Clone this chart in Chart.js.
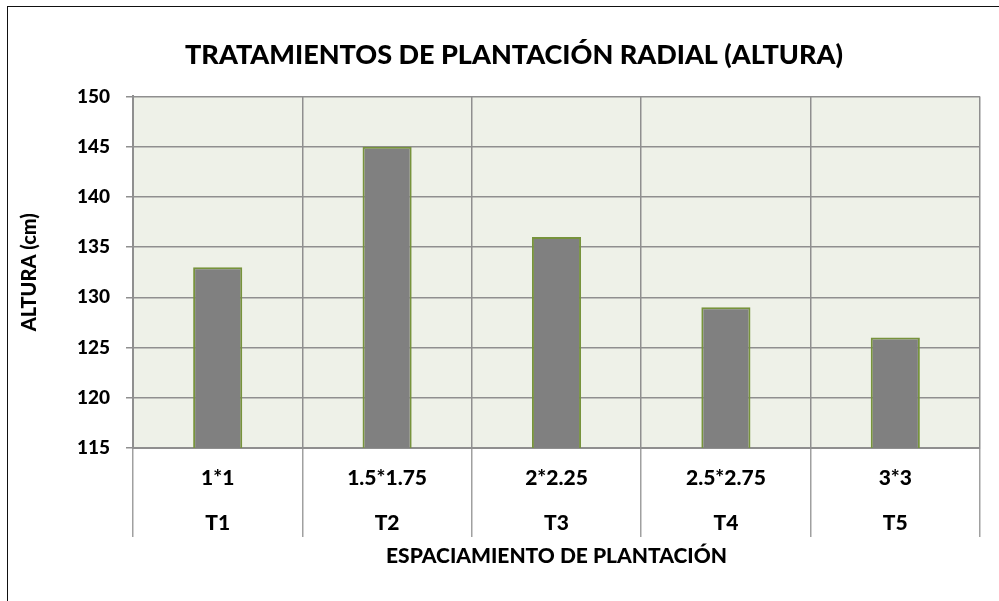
<!DOCTYPE html>
<html>
<head>
<meta charset="utf-8">
<script src="https://cdn.jsdelivr.net/npm/chart.js@4/dist/chart.umd.min.js"></script>
<style>
  html, body { margin: 0; padding: 0; background: #fff; overflow: hidden; }
  #wrap { position: relative; width: 999px; height: 601px; }
  #frame { position: absolute; left: 7px; top: 6px; width: 1100px; height: 700px; border: 1.5px solid #111; box-sizing: border-box; }
  canvas { position: absolute; left: 0; top: 0; }
</style>
</head>
<body>
<div id="wrap">
  <div id="frame"></div>
  <canvas id="myChart" width="999" height="601"></canvas>
</div>
<script>
// chart values
var espaciamiento = ['1*1', '1.5*1.75', '2*2.25', '2.5*2.75', '3*3']
var tratamientos = ['T1', 'T2', 'T3', 'T4', 'T5']
var altura = [133, 145, 136, 129, 126]
var yMin = 115
var yMax = 150
var yStep = 5

var labels = []
for (var i in espaciamiento) {
    labels.push([espaciamiento[i], tratamientos[i]])
}

var FONT = 'Lato, "Open Sans", sans-serif'
var W = '900'

// light green plot background
var plotBg = {
    id: 'plotBg',
    beforeDraw: function (chart) {
        var a = chart.chartArea
        var ctx = chart.ctx
        ctx.save()
        ctx.fillStyle = '#eef1e8'
        ctx.fillRect(a.left, a.top, a.right - a.left, a.bottom - a.top)
        ctx.restore()
    }
}

var ctx = document.getElementById('myChart').getContext('2d')
var chart = new Chart(ctx, {
    type: 'bar',
    data: {
        labels: labels,
        datasets: [{
            label: 'ALTURA',
            data: altura,
            backgroundColor: '#808080',
            borderColor: '#77933c',
            borderWidth: 2,
            categoryPercentage: 1,
            barPercentage: 0.29
        }]
    },
    options: {
        responsive: false,
        animation: false,
        layout: { padding: { left: 48, right: 19, top: 0, bottom: 24 } },
        plugins: {
            legend: { display: false },
            tooltip: { enabled: false },
            title: {
                display: true,
                text: 'TRATAMIENTOS DE PLANTACIÓN RADIAL (ALTURA)',
                color: '#000',
                font: { family: FONT, size: 27, weight: W, lineHeight: 1.2 },
                padding: { top: 39, bottom: 25 }
            }
        },
        scales: {
            x: {
                afterFit: function (s) { s.height = 129 },
                grid: {
                    offset: true,
                    color: '#8f8f8f',
                    lineWidth: 1.5,
                    tickLength: 89,
                    tickColor: '#a0a0a0'
                },
                border: { color: '#8f8f8f', width: 2 },
                ticks: {
                    color: '#000',
                    padding: -81.5,
                    maxRotation: 0,
                    font: { family: FONT, size: 21, weight: W, lineHeight: 45 / 21 }
                },
                title: {
                    display: true,
                    text: 'ESPACIAMIENTO DE PLANTACIÓN',
                    color: '#000',
                    font: { family: FONT, size: 21, weight: W, lineHeight: 1.2 },
                    padding: { top: 0, bottom: 8 }
                }
            },
            y: {
                min: yMin,
                max: yMax,
                afterFit: function (s) { s.width = 133 - 48 },
                grid: {
                    color: '#8f8f8f',
                    lineWidth: 1.5,
                    tickLength: 7
                },
                border: { color: '#8f8f8f', width: 2 },
                ticks: {
                    stepSize: yStep,
                    color: '#000',
                    padding: 16,
                    font: { family: FONT, size: 19, weight: W }
                },
                title: {
                    display: true,
                    text: 'ALTURA (cm)',
                    color: '#000',
                    font: { family: FONT, size: 20, weight: W, lineHeight: 1.2 },
                    padding: { top: -30, bottom: 0 }
                }
            }
        }
    },
    plugins: [plotBg]
})
</script>
</body>
</html>
